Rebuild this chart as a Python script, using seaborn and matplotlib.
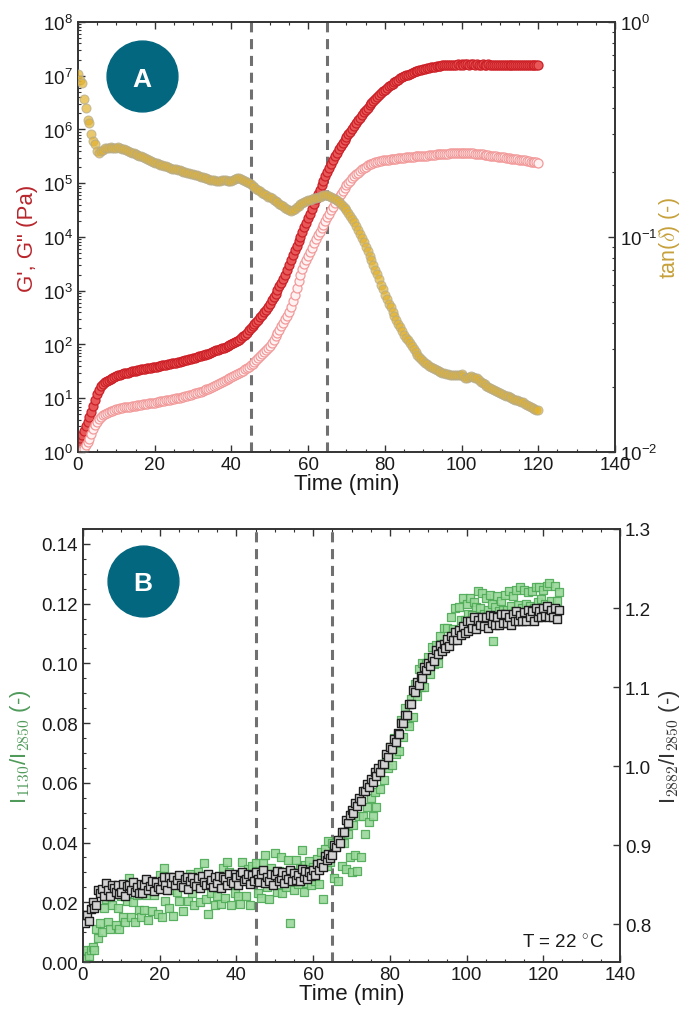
import numpy as np
import matplotlib
matplotlib.use("Agg")
import matplotlib.pyplot as plt
from matplotlib.ticker import (MultipleLocator, LogLocator, NullFormatter,
                               FuncFormatter, FormatStrFormatter, FixedLocator)
import seaborn as sns

# ---------------------------------------------------------------- data
# Rheology (panel A): sampled every 0.5 min from 0 to 120 min
rheo_step_min = 0.5
g_storage = [  # G' (Pa)
    1.5, 1.8, 2.1, 2.5, 3.0, 3.6, 4.5, 5.6, 7.1, 9.1,
    12, 14.5, 17, 18.6, 20, 21, 22, 23, 24, 25,
    26, 26.6, 27.5, 28.2, 29, 29.5, 30, 31, 31.5, 32,
    32.5, 33, 34, 34.5, 35, 35.6, 36, 36.7, 37, 37.6,
    38, 38.7, 39.4, 40, 41, 41.4, 42.2, 42.9, 43.7, 44.4,
    45.2, 45.9, 46.8, 47.9, 49, 50, 51.3, 52.1, 53.1, 54,
    55, 56.5, 58.2, 59.8, 61.7, 63, 64.6, 66, 67.6, 70,
    72.4, 75, 77.6, 79.8, 82.2, 84.5, 87, 90.2, 93.3, 96.6,
    100, 105, 110, 116, 123, 132, 141, 153, 166, 182,
    200, 219, 240, 263, 288, 320, 355, 398, 447, 507,
    575, 661, 759, 881, 1020, 1200, 1410, 1680, 2000, 2450,
    3020, 3720, 4570, 5620, 6920, 8410, 1.02e4, 1.24e4, 1.51e4, 1.84e4,
    2.24e4, 2.72e4, 3.31e4, 4.07e4, 5.01e4, 6.17e4, 7.59e4, 9.23e4, 1.12e5, 1.35e5,
    1.62e5, 1.93e5, 2.29e5, 2.69e5, 3.16e5, 3.67e5, 4.27e5, 4.90e5, 5.62e5, 6.38e5,
    7.24e5, 8.13e5, 9.12e5, 1.04e6, 1.17e6, 1.32e6, 1.48e6, 1.66e6, 1.86e6, 2.07e6,
    2.29e6, 2.54e6, 2.82e6, 3.09e6, 3.39e6, 3.72e6, 4.07e6, 4.42e6, 4.79e6, 5.13e6,
    5.50e6, 5.89e6, 6.31e6, 6.68e6, 7.08e6, 7.50e6, 7.94e6, 8.41e6, 8.91e6, 9.33e6,
    9.77e6, 1.01e7, 1.05e7, 1.08e7, 1.12e7, 1.16e7, 1.20e7, 1.23e7, 1.26e7, 1.29e7,
    1.32e7, 1.35e7, 1.38e7, 1.41e7, 1.45e7, 1.46e7, 1.48e7, 1.50e7, 1.51e7, 1.53e7,
    1.55e7, 1.57e7, 1.58e7, 1.59e7, 1.60e7, 1.60e7, 1.61e7, 1.61e7, 1.62e7, 1.61e7,
    1.62e7, 1.61e7, 1.62e7, 1.62e7, 1.61e7, 1.62e7, 1.62e7, 1.61e7, 1.62e7, 1.61e7,
    1.61e7, 1.62e7, 1.61e7, 1.61e7, 1.62e7, 1.61e7, 1.61e7, 1.60e7, 1.61e7, 1.61e7,
    1.60e7, 1.61e7, 1.60e7, 1.60e7, 1.61e7, 1.60e7, 1.60e7, 1.59e7, 1.60e7, 1.60e7,
    1.59e7, 1.60e7, 1.59e7, 1.59e7, 1.60e7, 1.59e7, 1.59e7, 1.58e7, 1.59e7, 1.59e7,
    1.58e7,
]
g_loss = [  # G'' (Pa)
    0.85, 0.95, 1.07, 1.15, 1.32, 1.51, 1.74, 2.14, 2.69, 3.16,
    3.63, 4.07, 4.47, 4.79, 5.01, 5.25, 5.50, 5.69, 5.89, 6.10,
    6.31, 6.41, 6.53, 6.64, 6.76, 6.84, 6.92, 7.00, 7.08, 7.16,
    7.24, 7.35, 7.45, 7.55, 7.66, 7.76, 7.87, 7.98, 8.09, 8.20,
    8.32, 8.45, 8.59, 8.73, 8.87, 9.02, 9.16, 9.31, 9.46, 9.62,
    9.77, 9.95, 10.1, 10.3, 10.5, 10.7, 11.0, 11.2, 11.5, 11.7,
    12.0, 12.3, 12.6, 12.9, 13.3, 13.7, 14.1, 14.6, 15.1, 15.7,
    16.2, 16.9, 17.6, 18.3, 19.1, 19.8, 20.7, 21.5, 22.4, 23.4,
    24.5, 25.7, 26.9, 28.2, 29.5, 31.0, 32.7, 34.4, 36.3, 38.5,
    40.7, 44.2, 47.9, 51.9, 56.2, 61.0, 66.1, 72.4, 79.4, 87.1,
    95.5, 108, 123, 141, 162, 188, 219, 254, 295, 343,
    398, 501, 631, 841, 1120, 1500, 2000, 2510, 3160, 3760,
    4470, 5310, 6310, 7590, 9120, 1.07e4, 1.26e4, 1.46e4, 1.70e4, 2.00e4,
    2.34e4, 2.72e4, 3.16e4, 3.67e4, 4.27e4, 4.90e4, 5.62e4, 6.38e4, 7.24e4, 8.13e4,
    9.12e4, 1.01e5, 1.12e5, 1.23e5, 1.35e5, 1.46e5, 1.58e5, 1.70e5, 1.82e5, 1.93e5,
    2.04e5, 2.14e5, 2.24e5, 2.32e5, 2.40e5, 2.45e5, 2.51e5, 2.57e5, 2.63e5, 2.66e5,
    2.69e5, 2.72e5, 2.75e5, 2.79e5, 2.82e5, 2.85e5, 2.88e5, 2.92e5, 2.95e5, 2.97e5,
    2.99e5, 3.01e5, 3.02e5, 3.05e5, 3.09e5, 3.13e5, 3.16e5, 3.18e5, 3.20e5, 3.22e5,
    3.24e5, 3.26e5, 3.27e5, 3.30e5, 3.31e5, 3.35e5, 3.39e5, 3.43e5, 3.47e5, 3.49e5,
    3.51e5, 3.53e5, 3.55e5, 3.57e5, 3.59e5, 3.61e5, 3.63e5, 3.66e5, 3.67e5, 3.70e5,
    3.72e5, 3.70e5, 3.67e5, 3.66e5, 3.63e5, 3.61e5, 3.59e5, 3.57e5, 3.55e5, 3.51e5,
    3.47e5, 3.43e5, 3.39e5, 3.35e5, 3.31e5, 3.27e5, 3.24e5, 3.20e5, 3.16e5, 3.13e5,
    3.09e5, 3.05e5, 3.02e5, 2.99e5, 2.95e5, 2.92e5, 2.88e5, 2.85e5, 2.82e5, 2.79e5,
    2.75e5, 2.72e5, 2.69e5, 2.65e5, 2.60e5, 2.56e5, 2.51e5, 2.48e5, 2.45e5, 2.43e5,
    2.40e5,
]
tan_delta = [
    .57, .54, .52, .44, .40, .35, .34, .30, .28, .27,
    .25, .245, .252, .255, .258, .26, .26, .262, .26, .258,
    .26, .262, .258, .256, .257, .253, .25, .249, .247, .245,
    .243, .241, .239, .237, .235, .233, .231, .228, .226, .224,
    .222, .220, .219, .217, .216, .214, .213, .211, .209, .208,
    .207, .206, .205, .204, .202, .201, .200, .199, .198, .197,
    .196, .195, .194, .193, .191, .190, .189, .188, .186, .185,
    .184, .184, .183, .183, .183, .184, .184, .184, .183, .183,
    .183, .185, .187, .188, .188, .187, .185, .183, .180, .178,
    .176, .173, .170, .168, .165, .163, .160, .158, .156, .154,
    .153, .151, .149, .147, .145, .143, .141, .139, .137, .135,
    .133, .132, .133, .135, .138, .140, .142, .144, .146, .147,
    .148, .149, .150, .151, .152, .153, .154, .155, .156, .156,
    .156, .155, .154, .152, .150, .148, .146, .143, .140, .137,
    .133, .129, .125, .121, .117, .1125, .108, .1035, .099, .0945,
    .090, .086, .082, .078, .074, .0705, .067, .0635, .060, .057,
    .054, .0515, .049, .047, .045, .043, .041, .0395, .038, .0365,
    .035, .034, .033, .032, .031, .030, .0292, .0283, .0277, .0271,
    .0265, .026, .0256, .0252, .0249, .0246, .0243, .024, .0238, .0236,
    .0234, .0232, .0231, .023, .0229, .0228, .0228, .0227, .0227, .0228,
    .0230, .0226, .0222, .0220, .0224, .0226, .0224, .0222, .0220, .0216,
    .0212, .0209, .0206, .0203, .0200, .0198, .0196, .0194, .0192, .0190,
    .0188, .0186, .0185, .0183, .0182, .0180, .0178, .0177, .0175, .0174,
    .0172, .0171, .0170, .0168, .0166, .0164, .0162, .0160, .0158, .0157,
    .0156,
]

# FTIR band ratios (panel B): sampled every 0.5 min from 0 to 124 min
ftir_step_min = 0.5
ratio_1130 = [  # I1130 / I2850
    .003, .001, .004, .002, .004, .005, .004, .011, .008, .013,
    .010, .018, .021, .0135, .011, .019, .0235, .0125, .018, .011,
    .022, .015, .0135, .0205, .028, .015, .020, .0135, .0225, .0175,
    .015, .024, .0175, .0225, .014, .024, .017, .0225, .0265, .016,
    .029, .015, .0315, .0205, .027, .018, .024, .0155, .0265, .0235,
    .0205, .028, .017, .026, .0255, .0205, .0295, .023, .019, .028,
    .030, .020, .026, .033, .021, .016, .028, .023, .027, .019,
    .022, .028, .0195, .0315, .0215, .0335, .030, .019, .026, .023,
    .029, .022, .0195, .0335, .0275, .022, .031, .019, .032, .027,
    .033, .023, .0285, .0215, .033, .036, .025, .021, .0315, .0285,
    .0365, .0235, .0305, .035, .023, .029, .025, .034, .013, .030,
    .024, .034, .026, .0315, .0375, .0235, .0325, .0265, .0337, .0257,
    .0317, .027, .0345, .026, .037, .021, .038, .032, .0404, .0336,
    .040, .028, .039, .027, .041, .032, .040, .031, .043, .035,
    .030, .046, .036, .0305, .049, .035, .049, .043, .052, .047,
    .055, .049, .057, .052, .063, .058, .066, .061, .069, .065,
    .072, .066, .075, .0695, .076, .0705, .081, .0755, .085, .080,
    .079, .088, .082, .093, .089, .098, .092, .100, .092, .100,
    .102, .0963, .1055, .0998, .106, .100, .109, .105, .112, .106,
    .112, .108, .1156, .1115, .1185, .1083, .119, .1146, .122, .1145,
    .120, .1165, .122, .1163, .1207, .119, .1243, .1186, .1236, .1166,
    .122, .118, .123, .120, .1076, .119, .1225, .1175, .121, .118,
    .123, .118, .1242, .1192, .1224, .1174, .1245, .1195, .1256, .1186,
    .1246, .120, .124, .1192, .1242, .1185, .1255, .1207, .1257, .1217,
    .1247, .120, .126, .127, .121, .117, .126, .121, .124,
]
ratio_2882 = [  # I2882 / I2850
    .811, .802, .812, .804, .819, .828, .820, .824, .843, .839,
    .845, .836, .852, .843, .836, .850, .846, .841, .850, .838,
    .840, .851, .836, .848, .850, .843, .853, .840, .847, .839,
    .851, .839, .849, .857, .843, .848, .855, .842, .853, .847,
    .844, .855, .859, .849, .843, .859, .852, .860, .849, .856,
    .862, .850, .847, .857, .860, .845, .855, .859, .852, .848,
    .858, .846, .861, .853, .849, .863, .851, .856, .847, .860,
    .852, .861, .846, .860, .857, .850, .864, .854, .852, .864,
    .859, .850, .862, .866, .854, .857, .864, .851, .862, .854,
    .866, .857, .853, .863, .868, .852, .860, .855, .864, .850,
    .862, .867, .854, .858, .866, .852, .862, .857, .869, .854,
    .865, .856, .862, .854, .870, .860, .867, .857, .866, .861,
    .869, .862, .876, .869, .877, .872, .886, .881, .889, .884,
    .888, .900, .897, .907, .903, .917, .916, .932, .928, .938,
    .944, .941, .953, .949, .960, .956, .969, .968, .977, .973,
    .983, .980, .992, .987, .998, .992, 1.003, 1.002, 1.015, 1.012,
    1.024, 1.022, 1.034, 1.030, 1.042, 1.040, 1.054, 1.054, 1.065, 1.065,
    1.079, 1.079, 1.096, 1.094, 1.106, 1.102, 1.114, 1.112, 1.125, 1.121,
    1.131, 1.126, 1.138, 1.133, 1.147, 1.142, 1.153, 1.146, 1.154, 1.149,
    1.161, 1.152, 1.164, 1.159, 1.170, 1.159, 1.172, 1.166, 1.177, 1.169,
    1.183, 1.171, 1.183, 1.175, 1.188, 1.173, 1.185, 1.178, 1.189, 1.177,
    1.188, 1.175, 1.191, 1.181, 1.190, 1.178, 1.189, 1.178, 1.193, 1.181,
    1.192, 1.181, 1.189, 1.179, 1.193, 1.184, 1.196, 1.183, 1.191, 1.183,
    1.195, 1.183, 1.197, 1.188, 1.196, 1.184, 1.200, 1.188, 1.196, 1.188,
    1.200, 1.190, 1.203, 1.189, 1.198, 1.188, 1.200, 1.186, 1.197,
]

gel_window = [45, 65]          # min, dashed guide lines
x_ticks = [0, 20, 40, 60, 80, 100, 120, 140]
rheo_time = np.arange(len(g_storage)) * rheo_step_min
ftir_time = np.arange(len(ratio_1130)) * ftir_step_min

# ---------------------------------------------------------------- style
sns.set_style("white")
plt.rcParams.update({
    "font.family": ["Liberation Sans", "DejaVu Sans"],
    "mathtext.fontset": "cm",
    "xtick.direction": "in",
    "ytick.direction": "in",
    "xtick.major.size": 5, "ytick.major.size": 5,
    "xtick.minor.size": 2.5, "ytick.minor.size": 2.5,
    "xtick.major.width": 1.0, "ytick.major.width": 1.0,
    "xtick.minor.width": 0.8, "ytick.minor.width": 0.8,
    "xtick.color": "#333333", "ytick.color": "#333333",
    "xtick.labelcolor": "#1a1a1a", "ytick.labelcolor": "#1a1a1a",
    "axes.edgecolor": "#333333",
    "axes.linewidth": 1.2,
})

TICK_FS = 13.5
LABEL_FS = 16
BADGE = "#03677f"
DASH = dict(color="#707070", lw=2.2, ls=(0, (3.3, 2.2)), zorder=1)

fig = plt.figure(figsize=(6.87, 10.12), dpi=100)
axA = fig.add_axes([0.1135, 0.5524, 0.7817, 0.4249])
axB = fig.add_axes([0.1208, 0.0484, 0.7817, 0.4279])

sci = FuncFormatter(lambda v, p: r"$\mathregular{10^{%d}}$" % int(round(np.log10(v))))


def style_x(ax):
    ax.set_xlim(0, 140)
    ax.xaxis.set_major_locator(FixedLocator(x_ticks))
    ax.xaxis.set_minor_locator(MultipleLocator(5))
    ax.tick_params(axis="x", which="both", top=True, bottom=True,
                   labelsize=TICK_FS, pad=3)
    ax.set_xlabel("Time (min)", fontsize=LABEL_FS, color="#1a1a1a", labelpad=0)


def badge(ax, x, y, letter):
    ax.plot([x], [y], marker="o", ms=51, color=BADGE, mec=BADGE,
            transform=ax.transAxes, clip_on=False, zorder=10)
    ax.text(x, y, letter, transform=ax.transAxes, ha="center",
            va="center_baseline", color="white", fontsize=19,
            fontweight="bold", zorder=11)


# ---------------------------------------------------------------- panel A
for t in gel_window:
    axA.axvline(t, **DASH)

sns.scatterplot(x=rheo_time, y=g_storage, ax=axA, s=42, color="#e85858",
                edgecolor="#cc1f26", linewidth=0.9, legend=False, zorder=3)
sns.scatterplot(x=rheo_time, y=g_loss, ax=axA, s=42, color="#fff2f2",
                edgecolor="#f29a9a", linewidth=0.9, legend=False, zorder=3)

axA.set_yscale("log")
axA.set_ylim(1, 1e8)
axA.yaxis.set_major_locator(LogLocator(base=10, numticks=20))
axA.yaxis.set_minor_locator(LogLocator(base=10, subs=np.arange(2, 10), numticks=20))
axA.yaxis.set_major_formatter(sci)
axA.yaxis.set_minor_formatter(NullFormatter())
axA.tick_params(axis="y", which="both", left=True, right=False,
                labelsize=TICK_FS)
axA.set_ylabel("G', G\" (Pa)", color="#b8262c", fontsize=LABEL_FS, labelpad=4)
style_x(axA)

axT = axA.twinx()
sns.scatterplot(x=rheo_time, y=tan_delta, ax=axT, s=42, color="#e2b22e",
                edgecolor="#b3ab90", linewidth=0.8, alpha=0.7,
                legend=False, zorder=3)
axT.set_yscale("log")
axT.set_ylim(1e-2, 1)
axT.yaxis.set_major_locator(LogLocator(base=10, numticks=20))
axT.yaxis.set_minor_locator(LogLocator(base=10, subs=np.arange(2, 10), numticks=20))
axT.yaxis.set_major_formatter(sci)
axT.yaxis.set_minor_formatter(NullFormatter())
axT.tick_params(axis="y", which="both", right=True, labelsize=TICK_FS)
axT.set_ylabel(r"tan($\delta$) (-)", color="#c6a03a", fontsize=15.5,
               labelpad=0)
axT.grid(False)
badge(axT, 0.119, 0.874, "A")

# ---------------------------------------------------------------- panel B
for t in gel_window:
    axB.axvline(t, **DASH)

sns.scatterplot(x=ftir_time, y=ratio_1130, ax=axB, marker="s", s=34,
                color="#9ad89a", edgecolor="#4daa55", linewidth=0.9,
                alpha=0.9, legend=False, zorder=3)
axB.set_ylim(0, 0.145)
axB.yaxis.set_major_locator(MultipleLocator(0.02))
axB.yaxis.set_minor_locator(MultipleLocator(0.005))
axB.yaxis.set_major_formatter(FormatStrFormatter("%.2f"))
axB.tick_params(axis="y", which="both", left=True, right=False,
                labelsize=TICK_FS)
axB.set_ylabel(r"I$_{1130}$/I$_{2850}$ (-)", color="#4f9a5a",
               fontsize=LABEL_FS, labelpad=6)
style_x(axB)

axR = axB.twinx()
sns.scatterplot(x=ftir_time, y=ratio_2882, ax=axR, marker="s", s=34,
                color="#d2d2d2", edgecolor="#1e1e1e", linewidth=1.0,
                legend=False, zorder=3)
axR.set_ylim(0.752, 1.3)
axR.yaxis.set_major_locator(MultipleLocator(0.1))
axR.yaxis.set_major_formatter(FormatStrFormatter("%.1f"))
axR.tick_params(axis="y", which="both", right=True, labelsize=TICK_FS)
axR.set_ylabel(r"I$_{2882}$/I$_{2850}$ (-)", color="#333333",
               fontsize=LABEL_FS, labelpad=4)
axR.grid(False)
axR.text(0.97, 0.025, r"T = 22 $^{\circ}$C", transform=axR.transAxes,
         ha="right", va="bottom", fontsize=TICK_FS, color="#1a1a1a")
badge(axR, 0.112, 0.88, "B")

for ax in (axA, axB, axT, axR):
    for sp in ax.spines.values():
        sp.set_linewidth(1.2)
        sp.set_color("#333333")

fig.savefig("out.png", dpi=100)
